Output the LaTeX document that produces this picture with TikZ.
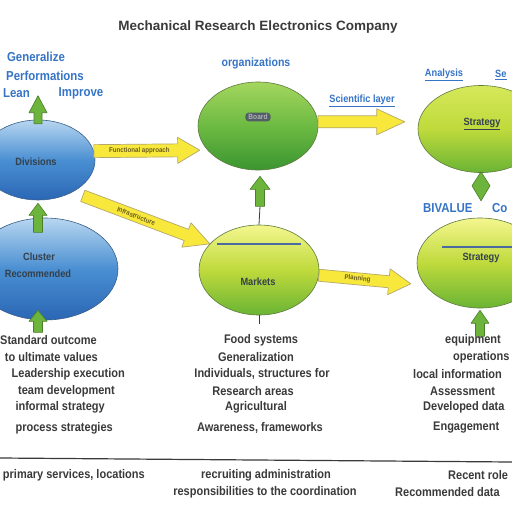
\documentclass[tikz,border=0pt]{standalone}
\usepackage{fontspec}
\setmainfont{Liberation Sans}
\newfontfamily\condf[FakeStretch=0.88]{Liberation Sans}
\usetikzlibrary{calc,shapes.geometric}
\definecolor{blT}{HTML}{B8D6F0}
\definecolor{blM}{HTML}{4A8FD2}
\definecolor{blB}{HTML}{2A66B4}
\definecolor{blD}{HTML}{3A5F8A}
\definecolor{grT}{HTML}{A4D65E}
\definecolor{grM}{HTML}{6DBA42}
\definecolor{grB}{HTML}{3A9530}
\definecolor{ygT}{HTML}{F4F68E}
\definecolor{ygM}{HTML}{BFDA3C}
\definecolor{ygB}{HTML}{6AB434}
\definecolor{rtT}{HTML}{D6E85A}
\definecolor{elD}{HTML}{5E7A3E}
\definecolor{arY}{HTML}{F8E83C}
\definecolor{arD}{HTML}{B5A86A}
\definecolor{gaF}{HTML}{6DB43C}
\definecolor{gaD}{HTML}{4B7D2A}
\definecolor{txB}{HTML}{3674C6}
\definecolor{txD}{HTML}{3A3A3A}
\definecolor{lbD}{HTML}{34404A}
\definecolor{olv}{HTML}{6B5D20}
\definecolor{lnB}{HTML}{4A6AA0}
\newcommand{\fatarr}[6]{%
 \coordinate (fab) at ($(#2)!#5!(#1)$);
 \draw[#6] ($(#1)!#3!90:(#2)$) -- ($(fab)!#3!-90:(#1)$) -- ($(fab)!#4!-90:(#1)$) -- (#2) -- ($(fab)!#4!90:(#1)$) -- ($(fab)!#3!90:(#1)$) -- ($(#1)!#3!-90:(#2)$) -- cycle;}
\begin{document}
\begin{tikzpicture}[x=1pt,y=-1pt,
  blueell/.style={ellipse, inner sep=0pt, draw=blD, line width=0.6pt, top color=blT, bottom color=blB, middle color=blM},
  greenell/.style={ellipse, inner sep=0pt, draw=elD, line width=0.6pt, top color=grT, bottom color=grB, middle color=grM},
  ygell/.style={ellipse, inner sep=0pt, draw=elD, line width=0.6pt, top color=ygT, bottom color=ygB, middle color=ygM},
  rtell/.style={ellipse, inner sep=0pt, draw=elD, line width=0.6pt, top color=rtT, bottom color=ygB, middle color=ygM},
  yarrow/.style={fill=arY, draw=arD, line width=0.7pt, line join=round},
  garrow/.style={fill=gaF, draw=gaD, line width=0.6pt, line join=round},
  titletext/.style={font=\bfseries\fontsize{13.5}{16}\selectfont, text=txD},
  bluelab/.style={font=\condf\bfseries\fontsize{13}{15}\selectfont, text=txB, inner sep=0pt},
  smallblue/.style={font=\condf\bfseries\fontsize{10.5}{12}\selectfont, text=txB, inner sep=0pt},
  inlab/.style={font=\condf\bfseries\fontsize{10.5}{12}\selectfont, text=lbD, inner sep=0pt},
  arlab/.style={font=\condf\bfseries\fontsize{7}{8}\selectfont, text=olv, inner sep=0pt},
  bodytext/.style={font=\condf\bfseries\fontsize{12.5}{14}\selectfont, text=txD, inner sep=0pt},
  stem/.style={draw=txD, line width=0.8pt}
]
\useasboundingbox (0,0) rectangle (512,512);
\clip (0,0) rectangle (512,512);
\fill[white] (0,0) rectangle (512,512);

% title
\node[titletext] (title) at (258,27) {Mechanical Research Electronics Company};

% ellipses
\node[blueell, minimum width=114, minimum height=80] (b1) at (38,160) {};
\node[blueell, minimum width=146, minimum height=102] (b2) at (45,269) {};
\node[greenell, minimum width=120, minimum height=88] (g1) at (258,126) {};
\node[ygell, minimum width=120, minimum height=90] (m1) at (259,270) {};
\node[rtell, minimum width=126, minimum height=87] (r1) at (481,129) {};
\node[ygell, minimum width=126, minimum height=90] (r2) at (480,263) {};

% labels inside ellipses
\node[inlab] (lb1) at (36,162) {Divisions};
\node[inlab] (lb2a) at (39,257) {Cluster};
\node[inlab] (lb2b) at (38,274) {Recommended};
\node[inlab, font=\condf\bfseries\fontsize{7.5}{9}\selectfont, fill=lbD!85, text=lbD!40, rounded corners=3pt, inner xsep=3pt, inner ysep=1.5pt] (lg1) at (258,117) {Board};
\node[inlab] (lr1) at (482,124) {\underline{Strategy}};
\node[inlab] (lm1) at (258,282) {Markets};
\node[inlab] (lr2) at (481,258) {Strategy};
\draw[lnB, line width=1.4pt] (217,244) -- (301,244);
\draw[lnB, line width=1.4pt] (442,247) -- (512,247);

% yellow connectors
\coordinate (a1s) at (b1.9);
\coordinate (a1e) at ($(b1.9 -| g1.west)+(2,-1)$);
\fatarr{a1s}{a1e}{6.5pt}{13pt}{22pt}{yarrow}
\path (a1s) -- (a1e) node[arlab, pos=0.43] (t1) {Functional approach};

\coordinate (a2s) at (g1.4);
\coordinate (a2e) at ($(g1.4 -| r1.west)+(-13,0)$);
\fatarr{a2s}{a2e}{6pt}{13pt}{28pt}{yarrow}

\coordinate (a3s) at ($(b1.-40)+(8,5)$);
\coordinate (a3e) at (m1.152);
\fatarr{a3s}{a3e}{6pt}{13pt}{25pt}{yarrow}
\path (a3s) -- (a3e) node[arlab, pos=0.42, sloped] (t3) {Infrastructure};

\coordinate (a4s) at (m1.-5);
\coordinate (a4e) at ($(r2.197)+(-11,3)$);
\fatarr{a4s}{a4e}{6pt}{13pt}{22pt}{yarrow}
\path (a4s) -- (a4e) node[arlab, pos=0.42, sloped] (t4) {Planning};

% green connectors
\coordinate (u1s) at ($(b1.north)+(0,4)$);
\coordinate (u1e) at ($(b1.north)+(0,-24)$);
\fatarr{u1s}{u1e}{4pt}{9pt}{17pt}{garrow}
\coordinate (u2s) at ($(b1.south)+(0,32)$);
\coordinate (u2e) at ($(b1.south)+(0,3)$);
\fatarr{u2s}{u2e}{4.5pt}{9pt}{12pt}{garrow}
\coordinate (u3s) at ($(b2.south)+(-7,12)$);
\coordinate (u3e) at ($(b2.south)+(-7,-10)$);
\fatarr{u3s}{u3e}{4.5pt}{9pt}{11pt}{garrow}
\coordinate (u4s) at ($(g1.south)+(2,36)$);
\coordinate (u4e) at ($(g1.south)+(2,6)$);
\draw[stem] (m1.north) -- (u4s);
\fatarr{u4s}{u4e}{4.5pt}{10pt}{13pt}{garrow}
\draw[stem] (m1.south) -- ++(0,9);
\coordinate (d1) at ($(r1.south)+(0,0)$);
\draw[garrow] ($(d1)+(0,-1)$) -- ($(d1)+(9,13)$) -- ($(d1)+(0,28)$) -- ($(d1)+(-9,13)$) -- cycle;
\coordinate (u5s) at ($(r2.south)+(0,28)$);
\coordinate (u5e) at ($(r2.south)+(0,2)$);
\fatarr{u5s}{u5e}{4.5pt}{9pt}{13pt}{garrow}

% blue labels
\node[bluelab] (bl1) at (36,57) {Generalize};
\node[bluelab, anchor=east] (bl2) at (84,76) {Performations};
\node[bluelab, anchor=east] (bl3) at (30,93) {Lean};
\node[bluelab] (bl4) at (81,93) {Improve};
\node[bluelab, font=\condf\bfseries\fontsize{12}{14}\selectfont] (bl5) at (256,63) {organizations};
\node[smallblue] (bl6) at (444,75) {\underline{Analysis}};
\node[smallblue, anchor=west] (bl7) at (495,75) {\underline{Se}};
\node[smallblue] (bl8) at (362,101) {\underline{Scientific layer}};
\node[bluelab, anchor=west] (bl9) at (423,208) {BIVALUE};
\node[bluelab, anchor=west] (bl10) at (492,208) {Co};

% bottom columns
\node[bodytext, anchor=east] (l1) at (97,340) {Standard outcome};
\node[bodytext, anchor=east] (l2) at (98,357) {to ultimate values};
\node[bodytext, anchor=east] (l3) at (125,374) {Leadership execution};
\node[bodytext, anchor=east] (l4) at (115,391) {team development};
\node[bodytext, anchor=east] (l5) at (105,407) {informal strategy};
\node[bodytext, anchor=east] (l6) at (113,428) {process strategies};

\node[bodytext] (c1) at (261,340) {Food systems};
\node[bodytext] (c2) at (256,357) {Generalization};
\node[bodytext] (c3) at (262,374) {Individuals, structures for};
\node[bodytext] (c4) at (253,391) {Research areas};
\node[bodytext] (c5) at (256,407) {Agricultural};
\node[bodytext] (c6) at (260,428) {Awareness, frameworks};

\node[bodytext, anchor=west] (r1t) at (445,340) {equipment};
\node[bodytext, anchor=west] (r2t) at (453,357) {operations};
\node[bodytext, anchor=west] (r3t) at (413,374) {local information};
\node[bodytext, anchor=west] (r4t) at (430,391) {Assessment};
\node[bodytext, anchor=west] (r5t) at (423,407) {Developed data};
\node[bodytext, anchor=west] (r6t) at (433,428) {Engagement};

% divider
\coordinate (hl) at (0,458);
\coordinate (hr) at (512,462);
\draw[txD, line width=1.2pt] (hl) -- (hr);

\node[bodytext, anchor=east] (f1) at (145,475) {primary services, locations};
\node[bodytext] (f2) at (266,475) {recruiting administration};
\node[bodytext, anchor=west] (f3) at (448,475) {Recent role};
\node[bodytext] (f4) at (265,492) {responsibilities to the coordination};
\node[bodytext, anchor=west] (f5) at (395,492) {Recommended data};
\end{tikzpicture}
\end{document}
